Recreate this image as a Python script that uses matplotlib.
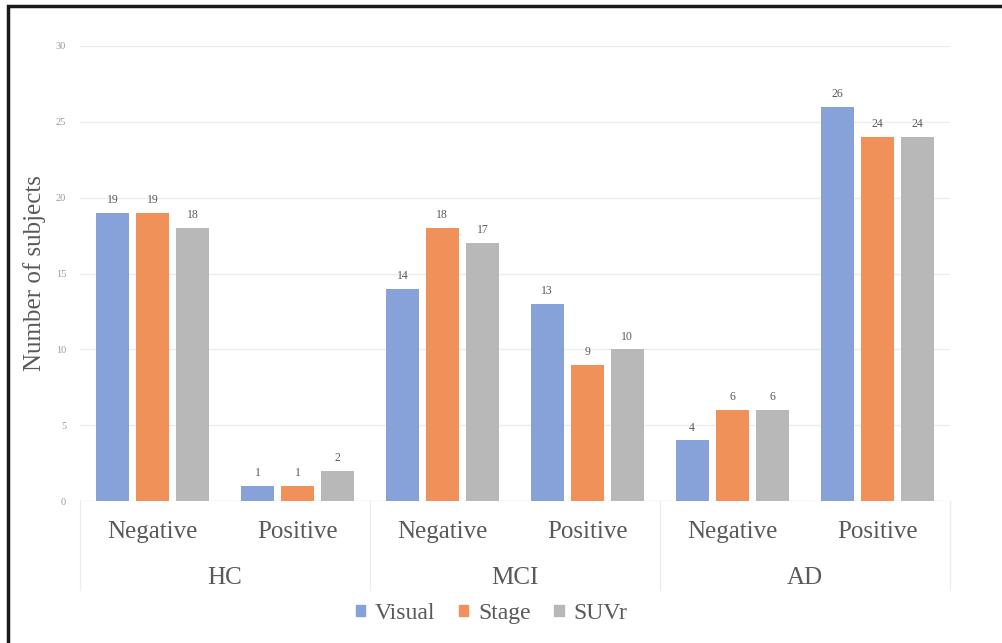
import matplotlib
matplotlib.use("Agg")
import matplotlib.pyplot as plt
from matplotlib.patches import Rectangle, Patch
import numpy as np

groups = ["HC", "MCI", "AD"]
subcats = ["Negative", "Positive"]
series = ["Visual", "Stage", "SUVr"]
visual = [19, 1, 14, 13, 4, 26]
stage = [19, 1, 18, 9, 6, 24]
suvr = [18, 2, 17, 10, 6, 24]

colors = ["#86a2d8", "#ef9158", "#b8b8b8"]
TXT = "#595959"
plt.rcParams["font.family"] = ["Liberation Serif", "DejaVu Serif"]

fig = plt.figure(figsize=(10.03, 6.43), dpi=100)
ax = fig.add_axes([0.0798, 0.2208, 0.867, 0.7077])

x = np.arange(len(visual)) + 0.5
w = 0.228
off = 0.276
for i, (vals, col, name) in enumerate(zip([visual, stage, suvr], colors, series)):
    xs = x + (i - 1) * off
    ax.bar(xs, vals, w, color=col, label=name, zorder=3)
    for xi, v in zip(xs, vals):
        ax.text(xi, v + 0.45, str(v), ha="center", va="bottom", fontsize=8.5, color=TXT)

ax.set_xlim(0, len(visual))
ax.set_ylim(0, 30)
ax.set_yticks(range(0, 31, 5))
ax.tick_params(axis="y", length=0, labelsize=7.5, labelcolor="#9a9a9a", pad=10)
ax.set_xticks([])
ax.grid(axis="y", color="#ececec", lw=0.9, zorder=0)
for s in ax.spines.values():
    s.set_visible(False)
ax.axhline(0, color="#e6e6e6", lw=0.9, zorder=2)
ax.set_ylabel("Number of subjects", fontsize=18, color=TXT, labelpad=7)

# two-level category axis
tr = ax.get_xaxis_transform()
for k in range(len(groups) + 1):
    ax.plot([2 * k, 2 * k], [0, -0.196], color="#ececec", lw=0.9, transform=tr, clip_on=False)
for xi, lab in zip(x, subcats * len(groups)):
    ax.text(xi, -0.068, lab, ha="center", va="center", fontsize=18, color=TXT, transform=tr)
for k, g in enumerate(groups):
    ax.text(2 * k + 1, -0.17, g, ha="center", va="center", fontsize=18, color=TXT, transform=tr)

handles = [Patch(color=c, label=s) for c, s in zip(colors, series)]
fig.legend(handles=handles, loc="center", bbox_to_anchor=(0.49, 0.046), ncol=3, frameon=False,
           fontsize=17, handlelength=0.4, handleheight=0.4, handletextpad=0.4, columnspacing=1.0,
           labelcolor=TXT)

# outer frame
fig.patches.append(Rectangle((0.0075, -0.1), 1.1, 1.09, transform=fig.transFigure,
                             fill=False, edgecolor="#1a1a1a", lw=2.5))

fig.savefig("out.png", dpi=100)
